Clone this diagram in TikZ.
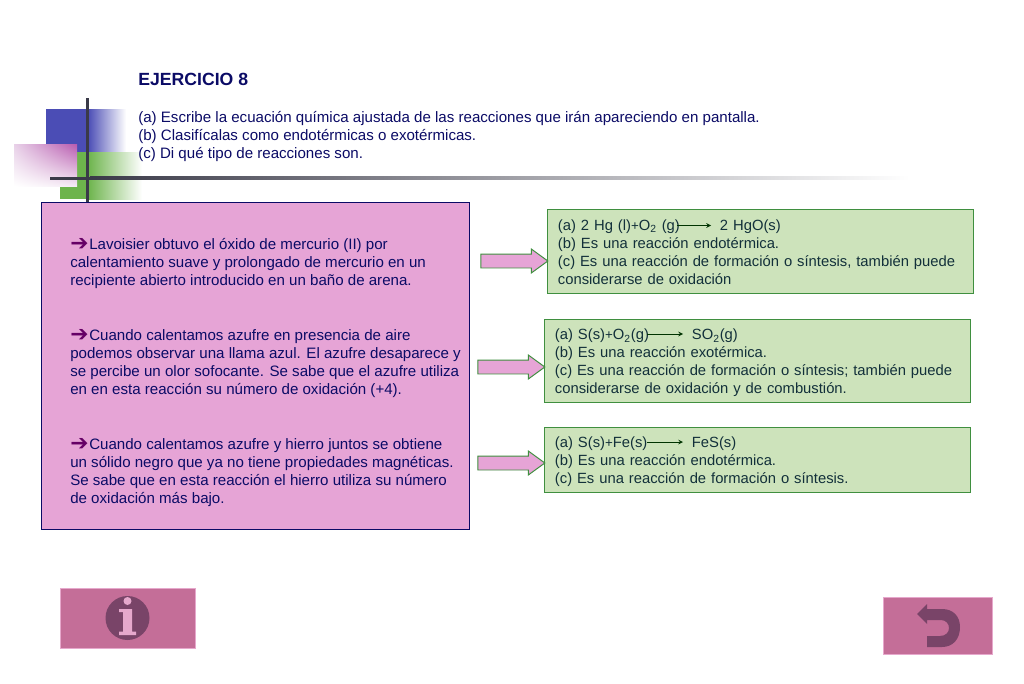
\documentclass[tikz,border=0pt]{standalone}
\usepackage{fontspec}
\usepackage{xcolor}
\setmainfont{Liberation Sans}
\newfontfamily\dejavu{DejaVu Sans}
\usetikzlibrary{
    arrows,
    shadings,
    shapes.arrows
}
\definecolor{navytext}{HTML}{0B0B66}
\definecolor{greentext}{HTML}{12303A}
\definecolor{pinkfill}{HTML}{E6A4D6}
\definecolor{greenfill}{HTML}{CDE3BB}
\definecolor{greenedge}{HTML}{3F8F3F}
\definecolor{buttonfill}{HTML}{C46E98}
\definecolor{buttondark}{HTML}{794468}
\definecolor{buttonlight}{HTML}{E6A8CC}
\definecolor{logoblue}{HTML}{4B4DB5}
\definecolor{logogreen}{HTML}{6DB44C}
\definecolor{logoline}{HTML}{3A3A48}
\definecolor{flechacolor}{HTML}{660066}
\newcommand{\flecha}{\makebox[13.5pt][l]{\smash{\dejavu\bfseries\fontsize{15.5}{15.5}\selectfont\color{flechacolor}\raisebox{-0.8pt}{➔}}}}
\newcommand{\mas}{{\fontsize{9.5}{10}\selectfont+}}
\newcommand{\alto}[1]{\rule{0pt}{#1}}
\tikzset{
    bodytext/.style={font=\fontsize{10.73}{12.8}\selectfont},
    answerbox/.style={draw=greenedge, line width=0.7pt, fill=greenfill, rectangle, align=left, inner xsep=0.25cm, inner ysep=0cm, text=greentext, font=\fontsize{10.52}{12.8}\selectfont},
    casetext/.style={anchor=north west, align=left, inner sep=0cm, text=navytext, bodytext},
    bigarrow/.style={draw=greenedge, line width=0.7pt, fill=pinkfill, single arrow, inner xsep=0cm, inner ysep=0.1625cm, minimum height=1.675cm, single arrow head extend=0.125cm, single arrow tip angle=72},
    button/.style={rectangle, fill=buttonfill, draw=buttonlight, line width=0.3pt, inner sep=0cm},
    smallarrow/.style={->, >=stealth, draw=black!80!green, line width=0.5pt}
}

\begin{document}
\begin{tikzpicture}[x=0.025cm, y=-0.025cm]
    \useasboundingbox (0, 0) rectangle (1024, 683);

    % logo
    \fill[logoblue] (46, 109) rectangle (88, 152);
    \shade[left color=logoblue, right color=white] (88, 109) rectangle (126, 152);
    \fill[logogreen] (60, 152) rectangle (88, 199);
    \shade[left color=logogreen, right color=white] (88, 152) rectangle (142, 199);
    \shade[upper left=violet!18!white, upper right=violet!45!pinkfill, lower left=white, lower right=violet!8!white] (14, 144) rectangle (77, 186);
    \fill[logoline] (85.5, 98) rectangle (89, 202);
    \fill[logoline] (50, 176.5) rectangle (90, 179.5);
    \shade[left color=logoline, right color=white] (90, 176.5) rectangle (910, 179.5);

    % header
    \node[anchor=west, inner sep=0cm, text=navytext, font=\fontsize{12.55}{15}\selectfont\bfseries] (title) at (138, 79.5) {EJERCICIO 8};
    \node[casetext] (tasks) at (138, 111) {(a) Escribe la ecuación química ajustada de las reacciones que irán apareciendo en pantalla.\\(b) Clasifícalas como endotérmicas o exotérmicas.\\(c) Di qué tipo de reacciones son.};

    % left panel
    \node[draw=navytext, line width=0.6pt, fill=pinkfill, rectangle, minimum width=10.7cm, minimum height=8.175cm, inner sep=0cm] (panel) at (255, 365.5) {};
    \node[casetext] (case one) at (70, 238) {\flecha Lavoisier obtuvo el óxido de mercurio (II) por\\calentamiento suave y prolongado de mercurio en un\\recipiente abierto introducido en un baño de arena.};
    \node[casetext] (case two) at (70, 329) {\flecha Cuando calentamos azufre en presencia de aire\\podemos observar una llama azul. El azufre desaparece y\\se percibe un olor sofocante. Se sabe que el azufre utiliza\\en en esta reacción su número de oxidación (+4).};
    \node[casetext] (case three) at (70, 438) {\flecha Cuando calentamos azufre y hierro juntos se obtiene\\un sólido negro que ya no tiene propiedades magnéticas.\\Se sabe que en esta reacción el hierro utiliza su número\\de oxidación más bajo.};

    % answers
    \node[answerbox, minimum width=10.625cm, minimum height=2.075cm, text width=10.125cm] (answer one) at (760.5, 251.5) {\alto{8.3pt}\makebox[115.2pt][l]{(a) 2 Hg (l)\mas O\textsubscript{2} (g)}2 HgO(s)\\(b) Es una reacción endotérmica.\\(c) Es una reacción de formación o síntesis, también puede\\considerarse de oxidación};
    \node[answerbox, minimum width=10.625cm, minimum height=2.075cm, text width=10.125cm] (answer two) at (757.5, 360.5) {\alto{11pt}\makebox[97.4pt][l]{(a) S(s)\mas O\textsubscript{2}(g)}SO\textsubscript{2}(g)\\(b) Es una reacción exotérmica.\\(c) Es una reacción de formación o síntesis; también puede\\considerarse de oxidación y de combustión.};
    \node[answerbox, minimum width=10.625cm, minimum height=1.625cm, text width=10.125cm] (answer three) at (757.5, 459.5) {\alto{11pt}\makebox[97.4pt][l]{(a) S(s)\mas Fe(s)}FeS(s)\\(b) Es una reacción endotérmica.\\(c) Es una reacción de formación o síntesis.};

    \coordinate (reactants one) at (677, 225.5);
    \coordinate (products one) at (711, 225.5);
    \coordinate (reactants two) at (647, 334);
    \coordinate (products two) at (683, 334);
    \coordinate (reactants three) at (647, 442);
    \coordinate (products three) at (683, 442);
    \draw[smallarrow] (reactants one)--(products one);
    \draw[smallarrow] (reactants two)--(products two);
    \draw[smallarrow] (reactants three)--(products three);

    \node[bigarrow] (link one) at (509.5, 261) {};
    \node[bigarrow] (link two) at (506.5, 367) {};
    \node[bigarrow] (link three) at (506.5, 463) {};

    % buttons
    \node[button, minimum width=3.375cm, minimum height=1.5cm] (info) at (127.5, 618) {};
    \fill[buttondark] (127.5, 618) circle (22);
    \fill[buttonlight] (127.5, 601) circle (4);
    \fill[buttonlight] (119, 609) -- (132, 609) -- (132, 631.5) -- (136, 631.5) -- (136, 635) -- (119, 635) -- (119, 631.5) -- (123, 631.5) -- (123, 612) -- (119, 612) -- cycle;

    \node[button, minimum width=2.725cm, minimum height=1.425cm] (back) at (938, 625.5) {};
    \fill[buttondark] (917, 614) -- (927, 604) -- (927, 609) -- (942, 609) .. controls (953, 609) and (960, 616) .. (960, 627) .. controls (960, 639) and (953, 647) .. (942, 647) -- (927, 647) -- (927, 636) -- (940, 636) .. controls (946, 636) and (949, 632) .. (949, 628) .. controls (949, 624) and (946, 620) .. (941, 620) -- (927, 620) -- (927, 624) -- cycle;
\end{tikzpicture}
\end{document}
